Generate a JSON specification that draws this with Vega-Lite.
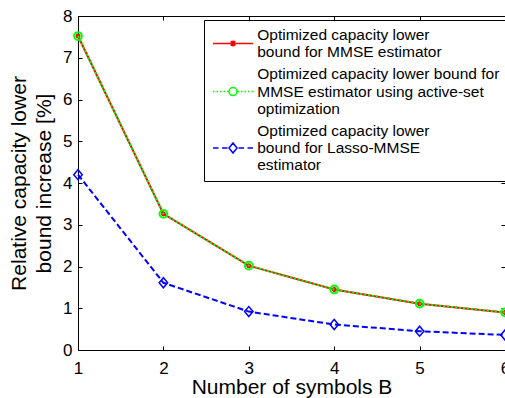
{
  "$schema": "https://vega.github.io/schema/vega-lite/v6.json",
  "width": 427,
  "height": 334,
  "autosize": "none",
  "padding": {"left": 78, "top": 16, "right": 0, "bottom": 48},
  "background": "white",
  "data": {
    "values": [
      {"B": 1, "value": 7.52, "series": "mmse"},
      {"B": 2, "value": 3.26, "series": "mmse"},
      {"B": 3, "value": 2.02, "series": "mmse"},
      {"B": 4, "value": 1.45, "series": "mmse"},
      {"B": 5, "value": 1.11, "series": "mmse"},
      {"B": 6, "value": 0.90, "series": "mmse"},
      {"B": 1, "value": 7.52, "series": "active"},
      {"B": 2, "value": 3.26, "series": "active"},
      {"B": 3, "value": 2.02, "series": "active"},
      {"B": 4, "value": 1.45, "series": "active"},
      {"B": 5, "value": 1.11, "series": "active"},
      {"B": 6, "value": 0.90, "series": "active"},
      {"B": 1, "value": 4.20, "series": "lasso"},
      {"B": 2, "value": 1.61, "series": "lasso"},
      {"B": 3, "value": 0.92, "series": "lasso"},
      {"B": 4, "value": 0.61, "series": "lasso"},
      {"B": 5, "value": 0.45, "series": "lasso"},
      {"B": 6, "value": 0.36, "series": "lasso"}
    ]
  },
  "layer": [
    {
      "transform": [{"filter": "datum.series == 'mmse'"}],
      "mark": {"type": "line", "strokeWidth": 2, "color": "#ff0000"},
      "encoding": {
        "x": {"field": "B", "type": "quantitative", "scale": {"domain": [1, 6], "nice": false, "zero": false}, "axis": {"orient": "bottom", "values": [1, 2, 3, 4, 5, 6], "format": "d", "title": "Number of symbols B", "labelPadding": 14, "titlePadding": 0}},
        "y": {"field": "value", "type": "quantitative", "scale": {"domain": [0, 8], "nice": false}, "axis": {"orient": "left", "values": [0, 1, 2, 3, 4, 5, 6, 7, 8], "format": "d", "title": ["Relative capacity lower", "bound increase [%]"], "labelPadding": 10, "titlePadding": 8, "titleLineHeight": 25}}
      }
    },
    {
      "transform": [{"filter": "datum.series == 'mmse'"}],
      "mark": {"type": "point", "shape": "M-1,0H1M0,-1V1M-0.7,-0.7L0.7,0.7M-0.7,0.7L0.7,-0.7", "size": 25, "strokeWidth": 1.5, "filled": false, "color": "#ff0000", "opacity": 1},
      "encoding": {
        "x": {"field": "B", "type": "quantitative", "axis": {"orient": "top", "values": [1, 2, 3, 4, 5, 6], "labels": false, "title": null}},
        "y": {"field": "value", "type": "quantitative", "axis": {"orient": "right", "values": [0, 1, 2, 3, 4, 5, 6, 7, 8], "labels": false, "title": null}}
      }
    },
    {
      "transform": [{"filter": "datum.series == 'active'"}],
      "mark": {"type": "line", "strokeWidth": 2, "color": "#00ff00", "strokeDash": [2, 2]},
      "encoding": {
        "x": {"field": "B", "type": "quantitative", "axis": null},
        "y": {"field": "value", "type": "quantitative", "axis": null}
      }
    },
    {
      "transform": [{"filter": "datum.series == 'active'"}],
      "mark": {"type": "point", "shape": "circle", "size": 60, "strokeWidth": 2, "filled": false, "color": "#00ff00", "opacity": 1},
      "encoding": {
        "x": {"field": "B", "type": "quantitative", "axis": null},
        "y": {"field": "value", "type": "quantitative", "axis": null}
      }
    },
    {
      "transform": [{"filter": "datum.series == 'lasso'"}],
      "mark": {"type": "line", "strokeWidth": 2, "color": "#0000ff", "strokeDash": [6, 3]},
      "encoding": {
        "x": {"field": "B", "type": "quantitative", "axis": null},
        "y": {"field": "value", "type": "quantitative", "axis": null}
      }
    },
    {
      "transform": [{"filter": "datum.series == 'lasso'"}],
      "mark": {"type": "point", "shape": "M-0.85,0L0,-1L0.85,0L0,1Z", "size": 100, "strokeWidth": 1.5, "filled": false, "color": "#0000ff", "opacity": 1},
      "encoding": {
        "x": {"field": "B", "type": "quantitative", "axis": null},
        "y": {"field": "value", "type": "quantitative", "axis": null}
      }
    },
    {
      "transform": [{"filter": "datum.B < 0"}],
      "mark": {"type": "point", "size": 100, "strokeWidth": 1.5, "filled": false, "opacity": 1},
      "encoding": {
        "x": {"field": "B", "type": "quantitative", "axis": null},
        "y": {"field": "value", "type": "quantitative", "axis": null},
        "color": {"field": "series", "type": "nominal", "scale": {"domain": ["mmse", "active", "lasso"], "range": ["#ff0000", "#00ff00", "#0000ff"]},
          "legend": {"title": null, "labelExpr": "datum.label == 'mmse' ? ['Optimized capacity lower', 'bound for MMSE estimator'] : datum.label == 'active' ? ['Optimized capacity lower bound for', 'MMSE estimator using active-set', 'optimization'] : ['Optimized capacity lower', 'bound for Lasso-MMSE', 'estimator']"}},
        "shape": {"field": "series", "type": "nominal", "scale": {"domain": ["mmse", "active", "lasso"], "range": [
          "M-4,1.73H4M-0.6,1.73H0.6M0,1.13V2.33M-0.45,1.28L0.45,2.18M-0.45,2.18L0.45,1.28",
          "M-4,3.46H-3.7M-3.3,3.46H-3M-2.6,3.46H-2.3M-1.9,3.46H-1.6M-1.2,3.46H-0.9M0.9,3.46H1.2M1.6,3.46H1.9M2.3,3.46H2.6M3,3.46H3.3M3.7,3.46H4M-0.8,3.46A0.8,0.8 0 1,0 0.8,3.46A0.8,0.8 0 1,0 -0.8,3.46",
          "M-4,3.46H-2.9M-2.2,3.46H-1.1M1.1,3.46H2.2M2.9,3.46H4M-0.8,3.46L0,2.46L0.8,3.46L0,4.46Z"
        ]},
          "legend": {"title": null, "labelExpr": "datum.label == 'mmse' ? ['Optimized capacity lower', 'bound for MMSE estimator'] : datum.label == 'active' ? ['Optimized capacity lower bound for', 'MMSE estimator using active-set', 'optimization'] : ['Optimized capacity lower', 'bound for Lasso-MMSE', 'estimator']"}}
      }
    }
  ],
  "config": {
    "view": {"stroke": "#000000", "strokeWidth": 1},
    "font": "Liberation Sans",
    "style": {"guide-label": {"lineHeight": 17.3}},
    "axis": {
      "domain": false,
      "grid": false,
      "tickColor": "#000000",
      "tickSize": -4,
      "tickWidth": 1,
      "labelColor": "#000000",
      "labelFont": "Liberation Sans",
      "labelFontSize": 17,
      "titleFont": "Liberation Sans",
      "titleFontSize": 21,
      "titleFontWeight": "normal",
      "titleColor": "#000000",
      "labelFlush": false,
      "labelOverlap": false
    },
    "legend": {
      "orient": "none",
      "legendX": 126,
      "legendY": 4,
      "padding": 7,
      "fillColor": "#ffffff",
      "strokeColor": "#000000",
      "labelFont": "Liberation Sans",
      "labelFontSize": 15.5,
      "labelColor": "#000000",
      "labelLimit": 400,
      "labelBaseline": "middle",
      "symbolSize": 100,
      "symbolStrokeWidth": 1.5,
      "symbolOffset": 14.25,
      "labelOffset": 16.5,
      "rowPadding": 5.5,
      "cornerRadius": 0
    }
  }
}
